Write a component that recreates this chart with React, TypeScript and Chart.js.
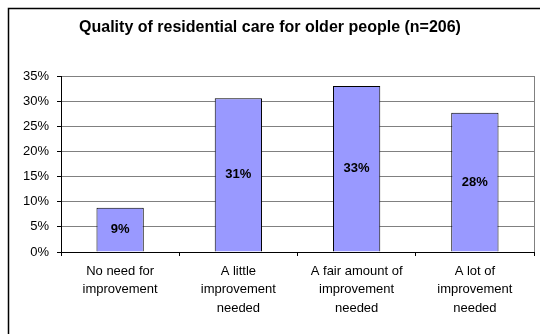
import React, { useEffect, useRef } from "react";
import { Chart, registerables } from "chart.js";

Chart.register(...registerables);

const chartTitle = "Quality of residential care for older people (n=206)";
const categories: string[][] = [
  ["No need for", "improvement"],
  ["A little", "improvement", "needed"],
  ["A fair amount of", "improvement", "needed"],
  ["A lot of", "improvement", "needed"],
];
const shares: number[] = [8.8, 30.6, 33.0, 27.7];
const valueLabels: string[] = ["9%", "31%", "33%", "28%"];
const yTicks: number[] = [0, 5, 10, 15, 20, 25, 30, 35];

const FONT = "'Liberation Sans', Arial, sans-serif";

const decorPlugin = {
  id: "decor",
  beforeDraw(chart: any) {
    const ctx = chart.ctx;
    ctx.save();
    ctx.fillStyle = "#ffffff";
    ctx.fillRect(0, 0, chart.width, chart.height);
    ctx.strokeStyle = "#000000";
    ctx.lineWidth = 1.5;
    ctx.strokeRect(8.5, 8.5, chart.width + 20, chart.height + 20);
    ctx.font = `bold 16px ${FONT}`;
    ctx.fillStyle = "#000000";
    ctx.textAlign = "center";
    ctx.textBaseline = "middle";
    ctx.fillText(chartTitle, 270, 28);
    const a = chart.chartArea;
    ctx.strokeStyle = "#808080";
    ctx.lineWidth = 1;
    ctx.strokeRect(Math.round(a.left) + 0.5, Math.round(a.top) + 0.5, Math.round(a.right - a.left), Math.round(a.bottom - a.top));
    ctx.restore();
  },
  afterDatasetsDraw(chart: any) {
    const ctx = chart.ctx;
    const meta = chart.getDatasetMeta(0);
    ctx.save();
    ctx.font = `bold 13px ${FONT}`;
    ctx.fillStyle = "#000000";
    ctx.textAlign = "center";
    ctx.textBaseline = "middle";
    meta.data.forEach((bar: any, i: number) => {
      const cy = (bar.y + bar.base) / 2;
      ctx.fillText(valueLabels[i], bar.x, cy);
    });
    ctx.restore();
  },
};

export default function App() {
  const ref = useRef<HTMLCanvasElement | null>(null);
  useEffect(() => {
    if (!ref.current) return;
    const chart = new Chart(ref.current, {
      type: "bar",
      data: {
        labels: categories,
        datasets: [
          {
            data: shares,
            backgroundColor: "#9999FF",
            borderColor: "#000000",
            borderWidth: 1,
            barPercentage: 0.4,
            categoryPercentage: 1,
          },
        ],
      },
      options: {
        animation: false,
        responsive: false,
        devicePixelRatio: 1,
        layout: { padding: { left: 0, right: 6, top: 76, bottom: 0 } },
        plugins: {
          legend: { display: false },
          title: { display: false },
          tooltip: { enabled: false },
        },
        scales: {
          x: {
            offset: true,
            grid: {
              offset: true,
              drawOnChartArea: false,
              drawTicks: true,
              tickLength: 4,
              tickColor: "#000000",
              color: "#000000",
            },
            border: { color: "#000000", width: 1 },
            ticks: {
              color: "#000000",
              padding: 6,
              maxRotation: 0,
              autoSkip: false,
              font: { family: FONT, size: 13, lineHeight: 1.42 },
            },
            afterFit: (s: any) => {
              s.height = 82;
            },
          },
          y: {
            min: 0,
            max: 35,
            afterBuildTicks: (s: any) => {
              s.ticks = yTicks.map((v) => ({ value: v }));
            },
            grid: {
              color: "#808080",
              tickColor: "#000000",
              tickLength: 4,
            },
            border: { color: "#000000", width: 1 },
            ticks: {
              color: "#000000",
              padding: 8,
              callback: (v: any) => `${v}%`,
              font: { family: FONT, size: 13 },
            },
            afterFit: (s: any) => {
              s.width = 61;
            },
          },
        },
      },
      plugins: [decorPlugin],
    });
    return () => chart.destroy();
  }, []);
  return (
    <div style={{ position: "fixed", left: 0, top: 0, width: 540, height: 334 }}>
      <canvas ref={ref} width={540} height={334} style={{ display: "block" }} />
    </div>
  );
}
